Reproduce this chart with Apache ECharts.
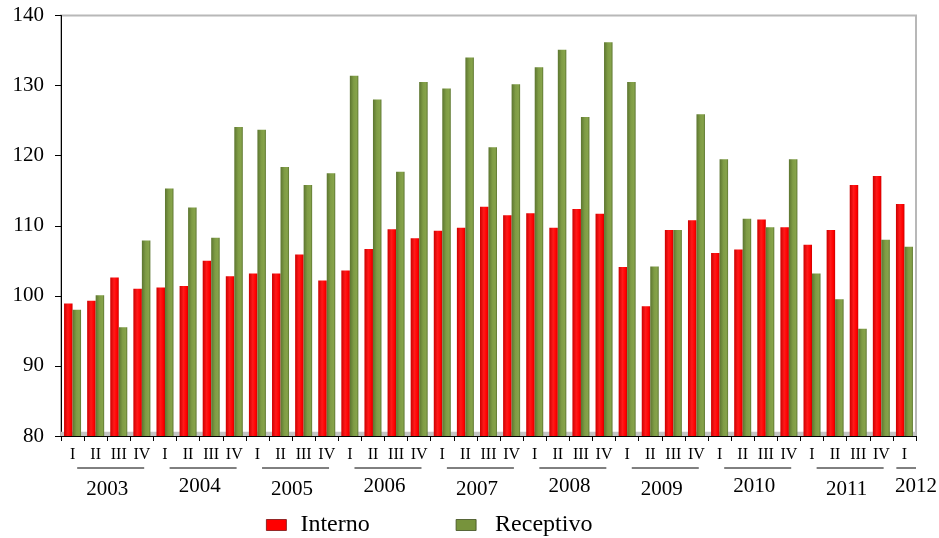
<!DOCTYPE html>
<html>
<head>
<meta charset="utf-8">
<script src="https://cdn.jsdelivr.net/npm/echarts@6/dist/echarts.min.js"></script>
<style>
  html, body { margin: 0; padding: 0; background: #fff; }
  #chart { width: 939px; height: 538px; }
</style>
</head>
<body>
<div id="chart"></div>
<script>
// Quarterly index, 2003 I – 2012 I
const quarters = ['I','II','III','IV','I','II','III','IV','I','II','III','IV',
                  'I','II','III','IV','I','II','III','IV','I','II','III','IV',
                  'I','II','III','IV','I','II','III','IV','I','II','III','IV','I'];
const years = ['2003','2004','2005','2006','2007','2008','2009','2010','2011','2012'];
const quartersPerYear = [4,4,4,4,4,4,4,4,4,1];

const interno = [98.9, 99.3, 102.6, 101.0, 101.2, 101.4, 105.0, 102.8,
                 103.2, 103.2, 105.9, 102.2, 103.6, 106.7, 109.5, 108.2,
                 109.3, 109.7, 112.7, 111.5, 111.8, 109.7, 112.4, 111.7,
                 104.1, 98.5, 109.4, 110.8, 106.1, 106.6, 110.9, 109.8,
                 107.3, 109.4, 115.8, 117.1, 113.1];
const receptivo = [98.0, 100.1, 95.5, 107.9, 115.3, 112.6, 108.3, 124.1,
                   123.7, 118.4, 115.8, 117.5, 131.4, 128.0, 117.7, 130.5,
                   129.6, 134.0, 121.2, 130.2, 132.6, 135.1, 125.5, 136.2,
                   130.5, 104.2, 109.4, 125.9, 119.5, 111.0, 109.8, 119.5,
                   103.2, 99.5, 95.3, 108.0, 107.0];
const yTicks = { min: 80, max: 140, step: 10 };

const FONT = '"Liberation Serif", "Times New Roman", serif';

const chart = echarts.init(document.getElementById('chart'), null, { renderer: 'canvas' });

function barGradient(dark, mid, light) {
  return new echarts.graphic.LinearGradient(0, 0, 1, 0, [
    { offset: 0, color: dark },
    { offset: 0.45, color: mid },
    { offset: 0.8, color: light },
    { offset: 1, color: dark }
  ]);
}

chart.setOption({
  animation: false,
  backgroundColor: '#fff',
  grid: {
    left: 61, right: 23, top: 15.5, bottom: 102,
    show: true, borderColor: '#b8b8b8', borderWidth: 2, backgroundColor: 'transparent'
  },
  legend: {
    top: 513,
    left: 266,
    padding: 0,
    icon: 'rect',
    itemWidth: 20,
    itemHeight: 11,
    itemGap: 86,
    textStyle: { fontFamily: FONT, fontSize: 24, color: '#000', padding: [0, 0, 0, 9] },
    data: [
      { name: 'Interno', itemStyle: { color: '#ff0000', borderColor: '#7a1010', borderWidth: 0.8 } },
      { name: 'Receptivo', itemStyle: { color: '#77933c', borderColor: '#3d4d1e', borderWidth: 0.8 },
        textStyle: { padding: [0, 0, 0, 14] } }
    ]
  },
  xAxis: {
    type: 'category',
    data: quarters,
    boundaryGap: true,
    axisLine: { lineStyle: { color: '#000', width: 1 } },
    axisTick: { show: true, alignWithLabel: false, length: 5, lineStyle: { color: '#000' } },
    axisLabel: { interval: 0, margin: 11, fontFamily: FONT, fontSize: 16, color: '#000' },
    splitLine: { show: false }
  },
  yAxis: {
    type: 'value',
    min: yTicks.min, max: yTicks.max, interval: yTicks.step,
    axisLine: { show: true, lineStyle: { color: '#000', width: 1 } },
    axisTick: { show: true, length: 6, lineStyle: { color: '#000' } },
    axisLabel: { margin: 17, fontFamily: FONT, fontSize: 21, color: '#000' },
    splitLine: { show: false }
  },
  series: [
    {
      name: 'Interno',
      type: 'bar',
      data: interno,
      barWidth: 8.5,
      barGap: '0%',
      itemStyle: {
        color: barGradient('#cc0000', '#ff1a1a', '#ff0000'),
        shadowColor: 'rgba(0,0,0,0.18)', shadowBlur: 2, shadowOffsetX: 1
      },
      markArea: {
        silent: true,
        itemStyle: { color: '#c4c4c4' },
        data: [[{ yAxis: 80 }, { yAxis: 80.6 }]]
      }
    },
    {
      name: 'Receptivo',
      type: 'bar',
      data: receptivo,
      barWidth: 8.5,
      barGap: '0%',
      itemStyle: {
        color: barGradient('#5c7530', '#7f9c45', '#86a34a'),
        shadowColor: 'rgba(0,0,0,0.18)', shadowBlur: 2, shadowOffsetX: 1
      }
    }
  ]
});

// Year captions and their underlines, placed from the category axis scale
const axisY = chart.convertToPixel({ yAxisIndex: 0 }, yTicks.min);
const c0 = chart.convertToPixel({ xAxisIndex: 0 }, 0);
const c1 = chart.convertToPixel({ xAxisIndex: 0 }, 1);
const band = c1 - c0;
const edge = k => c0 + (k - 0.5) * band;

const yearGraphics = [];
let start = 0;
years.forEach((yr, i) => {
  const n = quartersPerYear[i];
  const end = start + n;
  const single = n === 1;
  const x1 = edge(start + (single ? 0.15 : 0.7));
  const x2 = edge(end - (single ? 0 : 0.4));
  const tx = single ? edge(end) : edge((start + end) / 2);
  const ty = axisY + (i % 2 === 0 ? 53 : 50);
  yearGraphics.push({
    type: 'line',
    silent: true,
    shape: { x1: x1, y1: axisY + 32, x2: x2, y2: axisY + 32 },
    style: { stroke: '#000', lineWidth: 1 }
  });
  yearGraphics.push({
    type: 'text',
    silent: true,
    x: tx, y: ty,
    style: {
      text: yr, fill: '#000', font: '21px ' + FONT,
      textAlign: 'center', textVerticalAlign: 'middle'
    }
  });
  start = end;
});

chart.setOption({ graphic: yearGraphics });
</script>
</body>
</html>
